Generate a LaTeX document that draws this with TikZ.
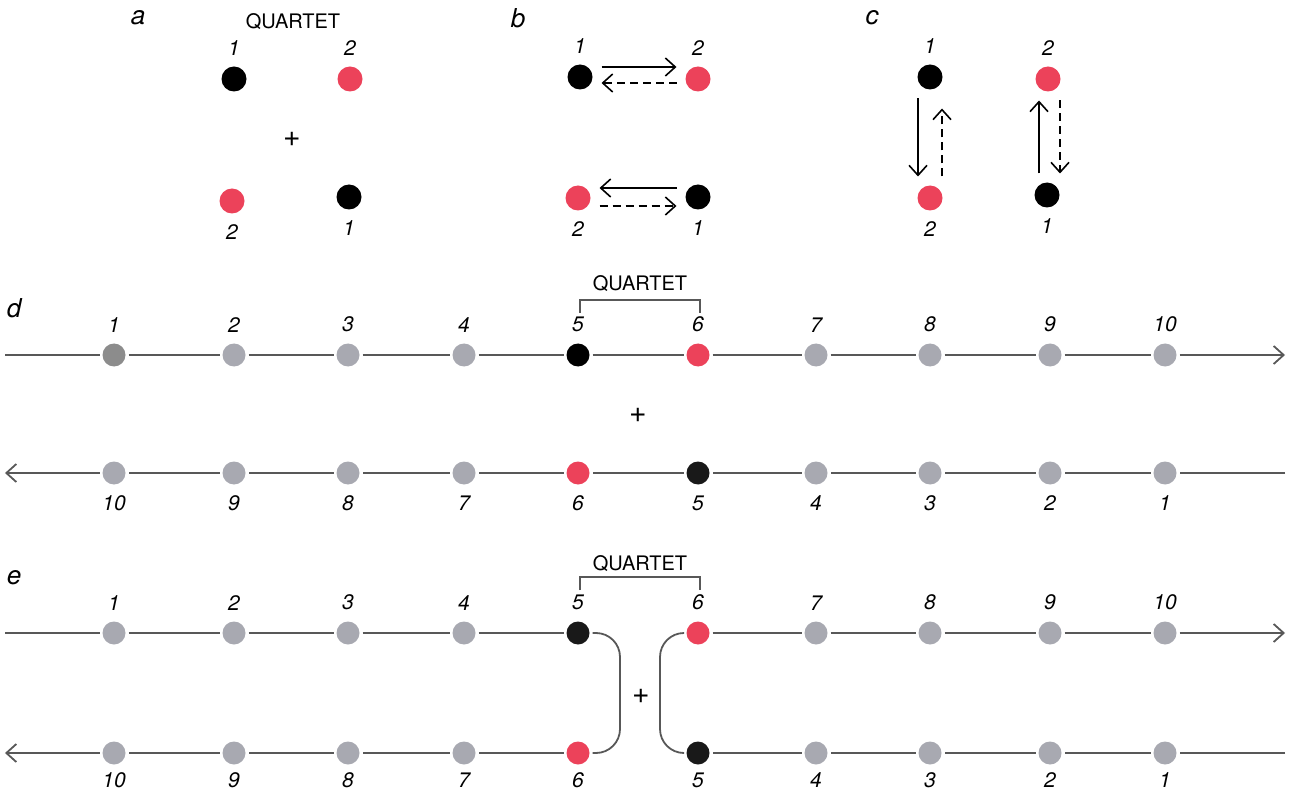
\documentclass[tikz,border=0pt]{standalone}
\usepackage{fontspec}
\setmainfont{TeX Gyre Heros}
\usetikzlibrary{positioning,arrows.meta}
\definecolor{myred}{RGB}{236,66,90}
\definecolor{mygray}{RGB}{168,169,177}
\definecolor{myline}{RGB}{88,88,88}

\begin{document}
\begin{tikzpicture}[x=0.5pt,y=-0.5pt,
dot/.style={
  circle,
  fill=#1,
  inner sep=0pt,
  minimum size=11.5pt,
  outer sep=1.5pt},
dot/.default=mygray,
bigdot/.style={dot=#1,minimum size=12.5pt},
every label/.style={font=\fontsize{10.5}{12}\selectfont\itshape,inner sep=1pt},
label distance=3pt,
panel/.style={font=\fontsize{13}{14}\selectfont\itshape},
quart/.style={font=\fontsize{10}{12}\selectfont},
plus/.style={font=\fontsize{15}{16}\selectfont},
chain/.style={draw=myline,line width=0.9pt},
tip/.style={-{Straight Barb[length=5pt,width=9pt]}},
arr/.style={line width=0.8pt,-{Straight Barb[length=5pt,width=9pt]},
  shorten <=3pt,shorten >=3pt},
darr/.style={arr,dash pattern=on 4pt off 2.5pt},
]
\useasboundingbox (0,0) rectangle (1296,791);

% a
\node[panel] (pa) at (138,18) {a};
\node[quart] (qa) at (293,22) {QUARTET};
\node[bigdot=black,label=above:1] (a1) at (234,79) {};
\node[bigdot=myred,label=above:2] (a2) at (350,79) {};
\node[bigdot=myred,label=below:2] (a3) at (232,201) {};
\node[bigdot=black,label=below:1] (a4) at (349,197) {};
\node[plus] (pla) at (292,139) {+};

% b
\node[panel] (pb) at (518,18) {b};
\node[bigdot=black,label=above:1] (b1) at (580,77) {};
\node[bigdot=myred,label=above:2] (b2) at (698,79) {};
\node[bigdot=myred,label=below:2] (b3) at (578,198) {};
\node[bigdot=black,label=below:1] (b4) at (698,197) {};
\draw[arr] ([yshift=5pt]b1.east) -- ([yshift=5pt]b1.east -| b2.west);
\draw[darr] ([yshift=-2pt]b2.west) -- ([yshift=-2pt]b2.west -| b1.east);
\draw[arr] ([yshift=4.5pt]b4.west) -- ([yshift=4.5pt]b4.west -| b3.east);
\draw[darr] ([yshift=-4pt]b3.east) -- ([yshift=-4pt]b3.east -| b4.west);

% c
\node[panel] (pc) at (872,18) {c};
\node[bigdot=black,label=above:1] (c1) at (930,77) {};
\node[bigdot=myred,label=above:2] (c2) at (1048,79) {};
\node[bigdot=myred,label=below:2] (c3) at (930,198) {};
\node[bigdot=black,label=below:1] (c4) at (1047,195) {};
\draw[arr] ([xshift=-6pt]c1.south) -- ([xshift=-6pt]c1.south |- c3.north);
\draw[darr,shorten >=8pt] ([xshift=6pt]c3.north) -- ([xshift=6pt]c3.north |- c1.south);
\draw[arr] ([xshift=-4pt]c4.north) -- ([xshift=-4pt]c4.north |- c2.south);
\draw[darr] ([xshift=6pt]c2.south) -- ([xshift=6pt]c2.south |- c4.north);

% d
\node[panel] (pd) at (14,308) {d};
\node[quart] (qd) at (640,284) {QUARTET};
\draw[line width=0.7pt,myline] (580,313) |- (700,300) -- (700,313);
\coordinate (dl) at (5,355);
\coordinate (dr) at (1285,355);
\foreach \i/\x in {2/234,3/348,4/464,7/816,8/930,9/1050,10/1165}
  \node[dot,label=above:\i] (d\i) at (\x,355) {};
\node[dot=black!45,label=above:1] (d1) at (114,355) {};
\node[dot=black,label=above:5] (d5) at (578,355) {};
\node[dot=myred,label=above:6] (d6) at (698,355) {};
\draw[chain,tip] (dl) -- (d1) -- (d2) -- (d3) -- (d4) -- (d5) -- (d6)
  -- (d7) -- (d8) -- (d9) -- (d10) -- (dr);
\node[plus] (pld) at (638,415) {+};
\coordinate (dbl) at (5,473);
\coordinate (dbr) at (1285,473);
\foreach \i/\x in {10/114,9/234,8/348,7/464,4/816,3/930,2/1050,1/1165}
  \node[dot,label=below:\i] (db\i) at (\x,473) {};
\node[dot=myred,label=below:6] (db6) at (578,473) {};
\node[dot=black!90,label=below:5] (db5) at (698,473) {};
\draw[chain,tip] (dbr) -- (db1) -- (db2) -- (db3) -- (db4) -- (db5) -- (db6)
  -- (db7) -- (db8) -- (db9) -- (db10) -- (dbl);

% e
\node[panel] (pe) at (14,578) {e};
\node[quart] (qe) at (640,564) {QUARTET};
\draw[line width=0.7pt,myline] (580,590) |- (700,577) -- (700,590);
\coordinate (el) at (5,633);
\coordinate (er) at (1285,633);
\foreach \i/\x in {1/114,2/234,3/348,4/464,7/816,8/930,9/1050,10/1165}
  \node[dot,label=above:\i] (e\i) at (\x,633) {};
\node[dot=black!90,label=above:5] (e5) at (578,633) {};
\node[dot=myred,label=above:6] (e6) at (698,633) {};
\draw[chain] (el) -- (e1) -- (e2) -- (e3) -- (e4) -- (e5);
\draw[chain,tip] (e6) -- (e7) -- (e8) -- (e9) -- (e10) -- (er);
\coordinate (ebl) at (5,753);
\coordinate (ebr) at (1285,753);
\foreach \i/\x in {10/114,9/234,8/348,7/464,4/816,3/930,2/1050,1/1165}
  \node[dot,label={[label distance=1.5pt]below:\i}] (eb\i) at (\x,753) {};
\node[dot=myred,label={[label distance=1.5pt]below:6}] (eb6) at (578,753) {};
\node[dot=black!90,label={[label distance=1.5pt]below:5}] (eb5) at (698,753) {};
\draw[chain,tip] (eb6) -- (eb7) -- (eb8) -- (eb9) -- (eb10) -- (ebl);
\draw[chain] (ebr) -- (eb1) -- (eb2) -- (eb3) -- (eb4) -- (eb5);
\coordinate (jl) at (620,693);
\coordinate (jr) at (660,693);
\draw[chain,rounded corners=12pt] (e5) -| (jl) |- (eb6);
\draw[chain,rounded corners=12pt] (e6) -| (jr) |- (eb5);
\node[plus] (ple) at (641,696) {+};
\end{tikzpicture}
\end{document}
